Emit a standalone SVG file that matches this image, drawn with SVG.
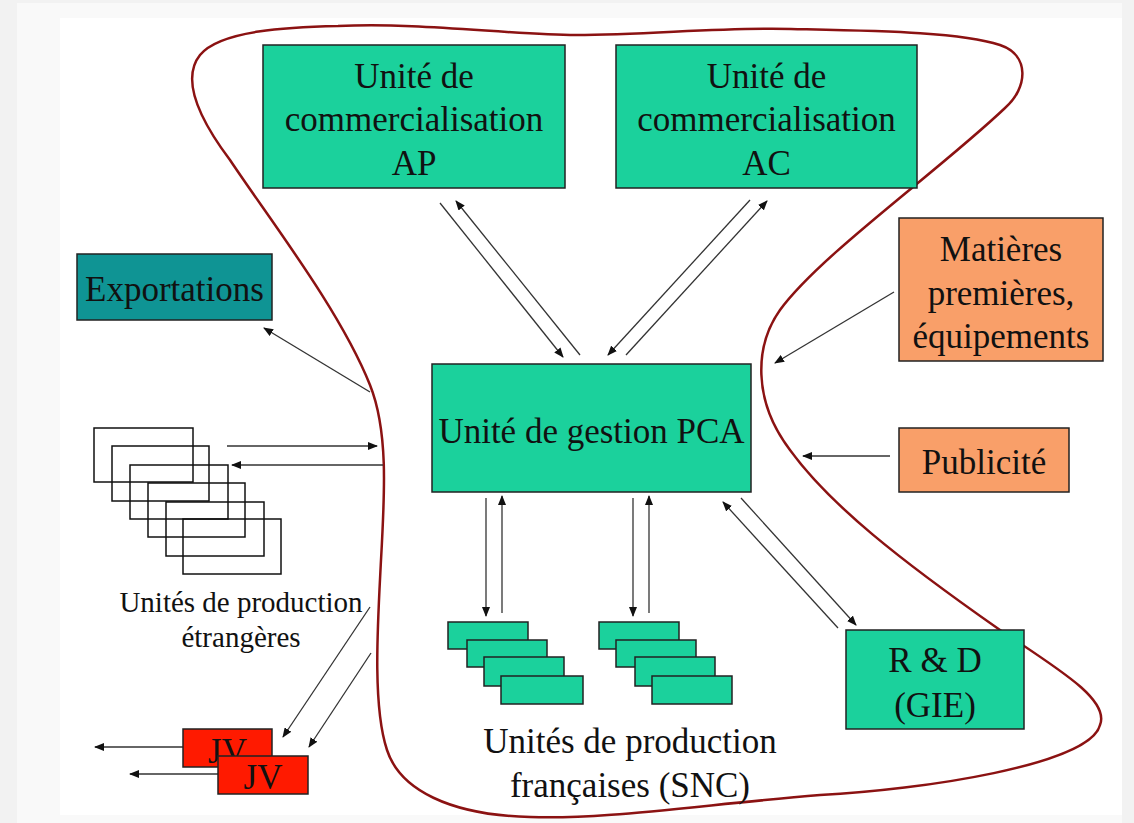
<svg xmlns="http://www.w3.org/2000/svg" width="1134" height="823" viewBox="0 0 1134 823">
<defs>
<marker id="ah" viewBox="0 0 10 8" refX="9" refY="4" markerWidth="10" markerHeight="8" markerUnits="userSpaceOnUse" orient="auto">
<path d="M0,0 L10,4 L0,8 Z" fill="#111"/>
</marker>
<style>
.box{stroke:#222;stroke-width:1.5}
.g{fill:#1bd19c}
.t{font-family:"Liberation Serif","Times New Roman",serif;font-size:35px;fill:#111;text-anchor:middle}
.s{font-size:29px}
.c{fill:none;stroke:#333;stroke-width:1.3;marker-end:url(#ah)}
.w{fill:none;stroke:#111;stroke-width:1.5}
</style>
</defs>
<rect x="0" y="0" width="1134" height="823" fill="#f2f2f2"/>
<rect x="17" y="3" width="1105" height="820" fill="#f9f9f9"/>
<rect x="60" y="18" width="1062" height="797" fill="#ffffff"/>

<path id="boundary" d="M 338 26 C 420 22, 510 35, 576 35 C 650 35, 720 27, 791 29 C 880 31, 960 32, 1000 45 C 1030 55, 1028 88, 1005 108 C 940 170, 820 255, 780 310 C 755 345, 752 400, 790 450 C 830 505, 900 560, 1000 630 C 1060 670, 1110 700, 1100 725 C 1090 765, 920 790, 820 795 C 700 805, 600 820, 530 817 C 450 815, 400 790, 387 750 C 372 705, 378 620, 381 560 C 385 490, 388 430, 370 385 C 340 310, 270 220, 230 160 C 200 120, 180 80, 200 55 C 220 30, 290 27, 338 26 Z" fill="none" stroke="#8b1212" stroke-width="2.5"/>

<g id="connectors">
<line class="c" x1="440" y1="203" x2="563" y2="357"/>
<line class="c" x1="580" y1="355" x2="456" y2="201"/>
<line class="c" x1="750" y1="200" x2="608" y2="355"/>
<line class="c" x1="626" y1="355" x2="767" y2="201"/>
<line class="c" x1="894" y1="292" x2="775" y2="363"/>
<line class="c" x1="890" y1="456" x2="803" y2="456"/>
<line class="c" x1="370" y1="392" x2="264" y2="328"/>
<line class="c" x1="838" y1="628" x2="723" y2="502"/>
<line class="c" x1="741" y1="498" x2="856" y2="625"/>
<line class="c" x1="227" y1="446" x2="377" y2="446"/>
<line class="c" x1="383" y1="465" x2="232" y2="465"/>
<line class="c" x1="486" y1="498" x2="486" y2="616"/>
<line class="c" x1="502" y1="613" x2="502" y2="496"/>
<line class="c" x1="633" y1="498" x2="633" y2="616"/>
<line class="c" x1="649" y1="613" x2="649" y2="496"/>
<line class="c" x1="370" y1="607" x2="283" y2="737"/>
<line class="c" x1="371" y1="653" x2="309" y2="747"/>
<line class="c" x1="183" y1="747" x2="95" y2="747"/>
<line class="c" x1="218" y1="774" x2="130" y2="774"/>
</g>

<g id="ap">
<rect class="box g" x="263" y="45" width="302" height="143"/>
<text class="t" x="414" y="88">Unité de</text>
<text class="t" x="414" y="131">commercialisation</text>
<text class="t" x="414" y="175">AP</text>
</g>
<g id="ac">
<rect class="box g" x="616" y="45" width="301" height="143"/>
<text class="t" x="766.5" y="88">Unité de</text>
<text class="t" x="766.5" y="131">commercialisation</text>
<text class="t" x="766.5" y="175">AC</text>
</g>
<g id="pca">
<rect class="box g" x="432" y="364" width="319" height="128"/>
<text class="t" x="591.5" y="443">Unité de gestion PCA</text>
</g>
<g id="exportations">
<rect class="box" fill="#0f9494" x="77" y="254" width="195" height="66"/>
<text class="t" x="174.5" y="301">Exportations</text>
</g>
<g id="matieres">
<rect class="box" fill="#f99f69" x="899" y="218" width="204" height="143"/>
<text class="t" x="1001" y="261">Matières</text>
<text class="t" x="1001" y="305">premières,</text>
<text class="t" x="1001" y="348">équipements</text>
</g>
<g id="publicite">
<rect class="box" fill="#f99f69" x="899" y="428" width="170" height="64"/>
<text class="t" x="984" y="474">Publicité</text>
</g>
<g id="rd">
<rect class="box g" x="846" y="630" width="178" height="99"/>
<text class="t" x="935" y="672">R &amp; D</text>
<text class="t" x="935" y="717">(GIE)</text>
</g>
<g id="prod-etrangeres">
<rect class="w" x="94" y="428" width="99" height="54"/>
<rect class="w" x="112" y="446" width="97" height="55"/>
<rect class="w" x="130" y="465" width="98" height="54"/>
<rect class="w" x="148" y="483" width="97" height="54"/>
<rect class="w" x="166" y="502" width="98" height="54"/>
<rect class="w" x="183" y="519" width="98" height="55"/>
<text class="t s" x="241" y="612">Unités de production</text>
<text class="t s" x="241" y="647">étrangères</text>
</g>
<g id="prod-francaises">
<rect class="box g" x="448" y="622" width="80" height="27"/>
<rect class="box g" x="467" y="640" width="80" height="27"/>
<rect class="box g" x="484" y="657" width="80" height="29"/>
<rect class="box g" x="501" y="676" width="82" height="28"/>
<rect class="box g" x="599" y="622" width="80" height="27"/>
<rect class="box g" x="616" y="640" width="80" height="27"/>
<rect class="box g" x="635" y="657" width="80" height="29"/>
<rect class="box g" x="652" y="676" width="80" height="28"/>
<text class="t" x="630" y="753">Unités de production</text>
<text class="t" x="630" y="797">françaises (SNC)</text>
</g>
<g id="jv1">
<rect class="box" fill="#ff1a00" x="183" y="729" width="89" height="38"/>
<text class="t" x="227.5" y="763">JV</text>
</g>
<g id="jv2">
<rect class="box" fill="#ff1a00" x="218" y="756" width="90" height="38"/>
<text class="t" x="263" y="789">JV</text>
</g>
</svg>
